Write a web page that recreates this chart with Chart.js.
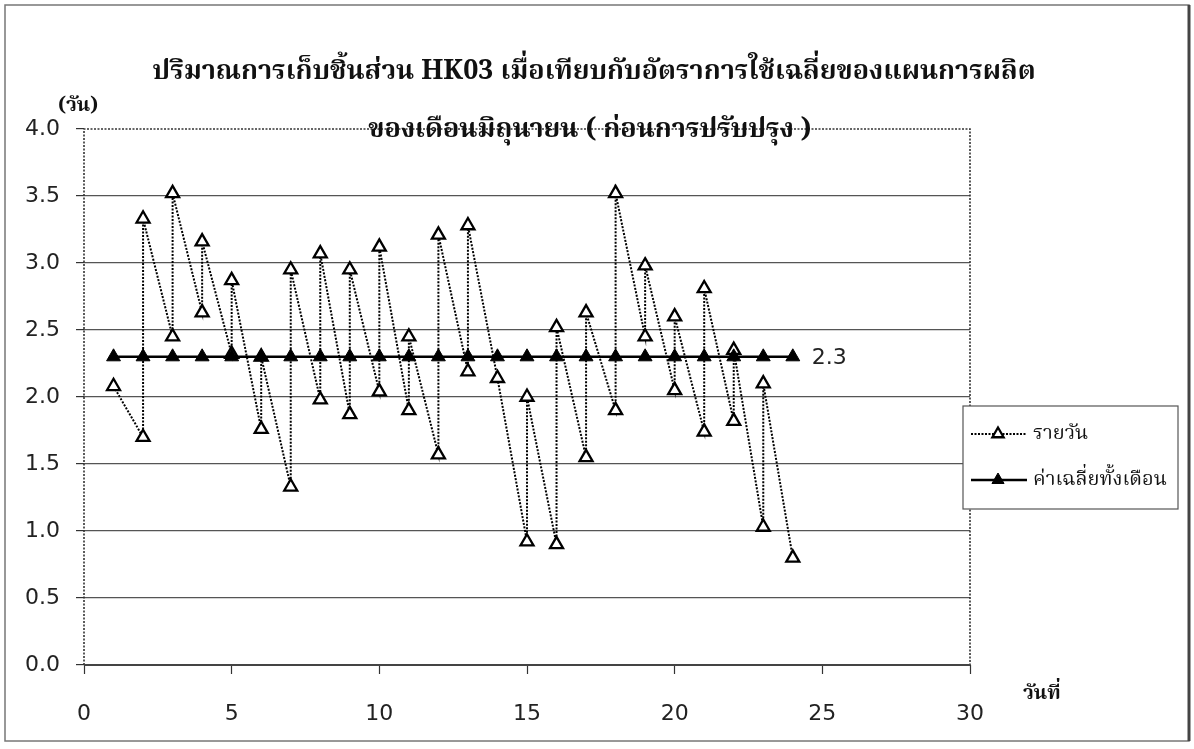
<!DOCTYPE html>
<html>
<head>
<meta charset="utf-8">
<script src="https://cdn.jsdelivr.net/npm/chart.js@4.4.0/dist/chart.umd.min.js"></script>
<style>
  html, body { margin: 0; padding: 0; background: #fff; }
  canvas { display: block; }
</style>
</head>
<body>
<canvas id="chart" width="1194" height="749"></canvas>
<script>
// Text
const titleLines = [
  'ปริมาณการเก็บชิ้นส่วน HK03 เมื่อเทียบกับอัตราการใช้เฉลี่ยของแผนการผลิต',
  'ของเดือนมิถุนายน ( ก่อนการปรับปรุง )'
];
const yUnitLabel = '(วัน)';
const xAxisLabel = 'วันที่';
const seriesNames = ['รายวัน', 'ค่าเฉลี่ยทั้งเดือน'];

// Daily stock level: each day has an opening and a closing reading
const dailyDays = [1, 2, 2, 3, 3, 4, 4, 5, 5, 6, 6, 7, 7, 8, 8, 9, 9, 10, 10, 11, 11, 12, 12,
  13, 13, 14, 15, 15, 16, 16, 17, 17, 18, 18, 19, 19, 20, 20, 21, 21, 22, 22, 23, 23, 24];
const dailyValues = [2.08, 1.70, 3.33, 2.45, 3.52, 2.63, 3.16, 2.32, 2.87, 1.76, 2.30, 1.33, 2.95,
  1.98, 3.07, 1.87, 2.95, 2.04, 3.12, 1.90, 2.45, 1.57, 3.21, 2.19, 3.28, 2.14, 0.92, 2.00, 0.90,
  2.52, 1.55, 2.63, 1.90, 3.52, 2.45, 2.98, 2.05, 2.60, 1.74, 2.81, 1.82, 2.35, 1.03, 2.10, 0.80];

// Monthly average
const avgDays = [1, 2, 3, 4, 5, 6, 7, 8, 9, 10, 11, 12, 13, 14, 15, 16, 17, 18, 19, 20, 21, 22, 23, 24];
const avgValues = [2.3, 2.3, 2.3, 2.3, 2.3, 2.3, 2.3, 2.3, 2.3, 2.3, 2.3, 2.3,
  2.3, 2.3, 2.3, 2.3, 2.3, 2.3, 2.3, 2.3, 2.3, 2.3, 2.3, 2.3];

// Axis ticks
const xTickValues = [0, 5, 10, 15, 20, 25, 30];
const yTickValues = [0, 0.5, 1.0, 1.5, 2.0, 2.5, 3.0, 3.5, 4.0];

const THAI_FONT = '"Noto Serif Thai", "Noto Sans Thai", Norasi, "Tlwg Typo", Garuda, Loma, "Noto Sans", serif';
const NUM_FONT = '"DejaVu Sans", "Noto Sans", sans-serif';

const toPoints = (xs, ys) => xs.map((x, i) => ({ x: x, y: ys[i] }));

// Page background, outer frame and dotted plot frame
const framePlugin = {
  id: 'frame',
  beforeDraw(chart) {
    const { ctx, width, height } = chart;
    ctx.save();
    ctx.fillStyle = '#fff';
    ctx.fillRect(0, 0, width, height);
    ctx.strokeStyle = '#777';
    ctx.lineWidth = 1.5;
    ctx.strokeRect(5, 5, width - 10, height - 13);
    ctx.strokeStyle = '#444';
    ctx.lineWidth = 3;
    ctx.beginPath();
    ctx.moveTo(width - 5, 5);
    ctx.lineTo(width - 5, height - 8);
    ctx.stroke();
    ctx.restore();
  },
  beforeDatasetsDraw(chart) {
    const { ctx, chartArea: a } = chart;
    ctx.save();
    ctx.strokeStyle = '#333';
    ctx.lineWidth = 1.6;
    ctx.setLineDash([2, 1.5]);
    ctx.beginPath();
    ctx.moveTo(a.left, a.bottom);
    ctx.lineTo(a.left, a.top);
    ctx.lineTo(a.right, a.top);
    ctx.lineTo(a.right, a.bottom);
    ctx.stroke();
    ctx.setLineDash([]);
    ctx.lineWidth = 2.2;
    ctx.strokeStyle = '#444';
    ctx.beginPath();
    ctx.moveTo(a.left, a.bottom);
    ctx.lineTo(a.right, a.bottom);
    ctx.stroke();
    ctx.restore();
  }
};

// Titles, axis captions, value label and the boxed legend
const textPlugin = {
  id: 'texts',
  afterDraw(chart) {
    const { ctx, chartArea: a } = chart;
    ctx.save();
    ctx.fillStyle = '#111';
    ctx.textBaseline = 'middle';

    ctx.textAlign = 'center';
    ctx.font = 'bold 27px ' + THAI_FONT;
    ctx.fillText(titleLines[0], 594, a.top - 54);
    ctx.fillText(titleLines[1], 590, a.top + 4);

    ctx.textAlign = 'left';
    ctx.font = 'bold 20px ' + THAI_FONT;
    ctx.fillText(yUnitLabel, a.left - 26, a.top - 21);
    ctx.fillText(xAxisLabel, a.right + 53, a.bottom + 31);

    // value label at the end of the average line
    const avgMeta = chart.getDatasetMeta(0);
    const last = avgMeta.data[avgMeta.data.length - 1];
    ctx.font = '22px ' + NUM_FONT;
    ctx.fillStyle = '#222';
    ctx.fillText(avgValues[avgValues.length - 1].toFixed(1), last.x + 19, last.y + 1);

    // legend box
    const bx = a.right - 7, by = a.top + 277, bw = 215, bh = 103;
    ctx.fillStyle = '#fff';
    ctx.fillRect(bx, by, bw, bh);
    ctx.strokeStyle = '#555';
    ctx.lineWidth = 1.2;
    ctx.strokeRect(bx, by, bw, bh);

    const rows = [
      { ds: chart.data.datasets[1], y: by + 28 },
      { ds: chart.data.datasets[0], y: by + 74 }
    ];
    rows.forEach(r => {
      const ds = r.ds;
      ctx.save();
      ctx.strokeStyle = ds.borderColor;
      ctx.lineWidth = ds.borderWidth;
      ctx.setLineDash(ds.borderDash || []);
      ctx.beginPath();
      ctx.moveTo(bx + 8, r.y);
      ctx.lineTo(bx + 64, r.y);
      ctx.stroke();
      ctx.restore();
      ctx.save();
      ctx.fillStyle = ds.pointBackgroundColor;
      ctx.strokeStyle = ds.pointBorderColor;
      ctx.lineWidth = ds.pointBorderWidth;
      Chart.helpers.drawPoint(ctx, { pointStyle: 'triangle', radius: ds.pointRadius - 1, borderWidth: ds.pointBorderWidth }, bx + 35, r.y);
      ctx.restore();
      ctx.fillStyle = '#111';
      ctx.font = '20px ' + THAI_FONT;
      ctx.fillText(ds.label, bx + 70, r.y + 2);
    });
    ctx.restore();
  }
};

new Chart(document.getElementById('chart'), {
  type: 'line',
  data: {
    datasets: [
      {
        label: seriesNames[1],
        data: toPoints(avgDays, avgValues),
        borderColor: '#000',
        borderWidth: 2.5,
        pointStyle: 'triangle',
        pointRadius: 8,
        pointBackgroundColor: '#000',
        pointBorderColor: '#000',
        pointBorderWidth: 1,
        tension: 0,
        order: 0
      },
      {
        label: seriesNames[0],
        data: toPoints(dailyDays, dailyValues),
        borderColor: '#000',
        borderWidth: 2,
        borderDash: [2, 1.5],
        pointStyle: 'triangle',
        pointRadius: 7.5,
        pointBackgroundColor: '#fff',
        pointBorderColor: '#000',
        pointBorderWidth: 2.3,
        tension: 0,
        order: 1
      }
    ]
  },
  options: {
    responsive: false,
    animation: false,
    layout: { padding: { left: 5, top: 129, right: 224, bottom: 0 } },
    plugins: {
      legend: { display: false },
      title: { display: false },
      tooltip: { enabled: false }
    },
    scales: {
      x: {
        type: 'linear',
        min: 0,
        max: 30,
        afterBuildTicks: s => { s.ticks = xTickValues.map(v => ({ value: v })); },
        afterFit: s => { s.height = 749 - 665; },
        grid: { drawOnChartArea: false, drawTicks: true, tickLength: 9, tickColor: '#333', tickWidth: 1.2 },
        border: { display: false },
        ticks: {
          padding: 27,
          color: '#222',
          font: { family: NUM_FONT, size: 22 },
          callback: v => String(v)
        }
      },
      y: {
        min: 0,
        max: 4,
        afterBuildTicks: s => { s.ticks = yTickValues.map(v => ({ value: v })); },
        afterFit: s => { s.width = 79; },
        grid: {
          color: c => (c.tick && (c.tick.value === 0 || c.tick.value === 4)) ? 'rgba(0,0,0,0)' : '#555',
          lineWidth: 1.2,
          tickColor: '#333',
          tickLength: 8,
          tickWidth: 1.2
        },
        border: { display: false },
        ticks: {
          padding: 16,
          color: '#222',
          font: { family: NUM_FONT, size: 22 },
          callback: v => Number(v).toFixed(1)
        }
      }
    }
  },
  plugins: [framePlugin, textPlugin]
});
</script>
</body>
</html>
